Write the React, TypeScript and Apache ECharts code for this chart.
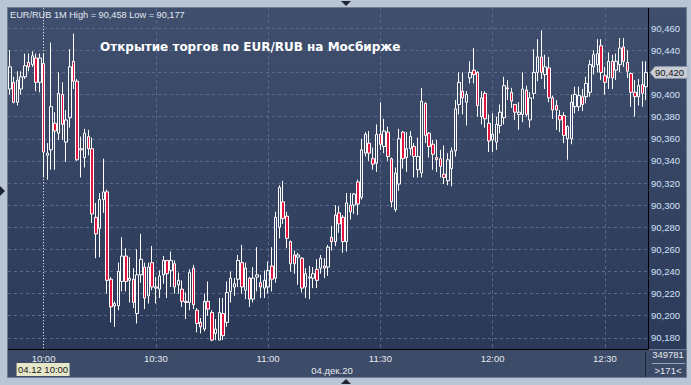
import React, { useEffect, useRef } from "react";
import * as echarts from "echarts";

// ---- data (1-minute candles, EUR/RUB, 04.12.20, starting 09:51) ----
const START_MINUTE = 9 * 60 + 51;
const opens = [
  90.405, 90.411, 90.393, 90.405, 90.416, 90.429, 90.427, 90.433, 90.411, 90.428,
  90.345, 90.35, 90.374, 90.365, 90.4, 90.357, 90.379, 90.43, 90.412, 90.351,
  90.343, 90.362, 90.351, 90.289, 90.279, 90.305, 90.312, 90.233, 90.209, 90.209,
  90.231, 90.254, 90.232, 90.233, 90.202, 90.237, 90.244, 90.218, 90.248, 90.225,
  90.224, 90.237, 90.25, 90.241, 90.247, 90.228, 90.224, 90.213, 90.212, 90.243,
  90.205, 90.194, 90.188, 90.213, 90.203, 90.184, 90.178, 90.202, 90.194, 90.222,
  90.226, 90.233, 90.248, 90.223, 90.234, 90.215, 90.235, 90.23, 90.225, 90.226,
  90.245, 90.234, 90.28, 90.303, 90.29, 90.267, 90.255, 90.253, 90.252, 90.226,
  90.234, 90.234, 90.242, 90.243, 90.245, 90.244, 90.271, 90.267, 90.293, 90.289,
  90.267, 90.3, 90.3, 90.321, 90.307, 90.347, 90.356, 90.342, 90.338, 90.364,
  90.353, 90.366, 90.342, 90.296, 90.319, 90.366, 90.343, 90.351, 90.353, 90.332,
  90.329, 90.392, 90.365, 90.355, 90.343, 90.342, 90.328, 90.322, 90.333, 90.349,
  90.391, 90.403, 90.393, 90.415, 90.422, 90.42, 90.38, 90.401, 90.374, 90.359,
  90.357, 90.372, 90.379, 90.406, 90.402, 90.391, 90.382, 90.382, 90.404, 90.377,
  90.401, 90.42, 90.434, 90.418, 90.424, 90.397, 90.39, 90.381, 90.381, 90.36,
  90.36, 90.389, 90.389, 90.398, 90.398, 90.402, 90.425, 90.427, 90.444, 90.417,
  90.415, 90.43, 90.422, 90.427, 90.443, 90.429, 90.419, 90.402, 90.398, 90.409,
  90.407,
];
const closes = [
  90.425, 90.393, 90.413, 90.416, 90.426, 90.425, 90.435, 90.411, 90.433, 90.348,
  90.347, 90.389, 90.367, 90.401, 90.373, 90.377, 90.425, 90.412, 90.341, 90.35,
  90.365, 90.351, 90.292, 90.274, 90.305, 90.312, 90.232, 90.208, 90.211, 90.24,
  90.254, 90.231, 90.234, 90.212, 90.237, 90.251, 90.216, 90.244, 90.226, 90.226,
  90.236, 90.25, 90.238, 90.25, 90.226, 90.232, 90.213, 90.212, 90.239, 90.21,
  90.193, 90.19, 90.213, 90.206, 90.178, 90.188, 90.203, 90.182, 90.221, 90.234,
  90.229, 90.25, 90.226, 90.243, 90.215, 90.234, 90.237, 90.226, 90.232, 90.241,
  90.233, 90.289, 90.316, 90.288, 90.27, 90.247, 90.247, 90.255, 90.225, 90.238,
  90.235, 90.238, 90.232, 90.252, 90.243, 90.262, 90.267, 90.291, 90.283, 90.267,
  90.302, 90.294, 90.31, 90.301, 90.35, 90.364, 90.347, 90.337, 90.364, 90.355,
  90.367, 90.344, 90.303, 90.329, 90.36, 90.342, 90.351, 90.362, 90.344, 90.344,
  90.394, 90.363, 90.353, 90.346, 90.341, 90.335, 90.325, 90.341, 90.349, 90.387,
  90.411, 90.397, 90.4, 90.42, 90.418, 90.39, 90.397, 90.378, 90.358, 90.364,
  90.373, 90.384, 90.408, 90.405, 90.394, 90.384, 90.384, 90.405, 90.382, 90.397,
  90.42, 90.434, 90.42, 90.425, 90.397, 90.386, 90.386, 90.377, 90.363, 90.371,
  90.393, 90.4, 90.399, 90.391, 90.41, 90.427, 90.436, 90.437, 90.42, 90.411,
  90.43, 90.415, 90.43, 90.442, 90.43, 90.421, 90.402, 90.398, 90.408, 90.401,
  90.42,
];
const lows = [
  90.4, 90.392, 90.39, 90.4, 90.414, 90.421, 90.425, 90.403, 90.402, 90.325,
  90.323, 90.332, 90.332, 90.359, 90.359, 90.339, 90.37, 90.405, 90.34, 90.325,
  90.334, 90.345, 90.284, 90.252, 90.253, 90.293, 90.22, 90.194, 90.19, 90.205,
  90.222, 90.222, 90.212, 90.207, 90.193, 90.23, 90.206, 90.211, 90.223, 90.211,
  90.216, 90.229, 90.216, 90.226, 90.22, 90.22, 90.208, 90.197, 90.205, 90.206,
  90.185, 90.184, 90.186, 90.2, 90.177, 90.178, 90.178, 90.178, 90.19, 90.212,
  90.218, 90.226, 90.22, 90.215, 90.208, 90.212, 90.222, 90.216, 90.216, 90.22,
  90.222, 90.23, 90.27, 90.283, 90.261, 90.24, 90.238, 90.228, 90.221, 90.216,
  90.215, 90.225, 90.225, 90.238, 90.234, 90.236, 90.259, 90.263, 90.275, 90.257,
  90.258, 90.287, 90.292, 90.291, 90.305, 90.344, 90.34, 90.332, 90.33, 90.35,
  90.347, 90.34, 90.298, 90.294, 90.313, 90.333, 90.33, 90.345, 90.325, 90.325,
  90.325, 90.356, 90.343, 90.332, 90.33, 90.325, 90.319, 90.318, 90.317, 90.344,
  90.382, 90.382, 90.372, 90.41, 90.41, 90.38, 90.373, 90.37, 90.348, 90.348,
  90.35, 90.365, 90.373, 90.395, 90.388, 90.377, 90.368, 90.375, 90.38, 90.37,
  90.396, 90.412, 90.414, 90.405, 90.393, 90.378, 90.368, 90.366, 90.356, 90.341,
  90.355, 90.383, 90.385, 90.385, 90.392, 90.398, 90.418, 90.42, 90.413, 90.4,
  90.405, 90.405, 90.413, 90.42, 90.425, 90.415, 90.389, 90.38, 90.39, 90.389,
  90.395,
];
const highs = [
  90.44, 90.416, 90.421, 90.421, 90.437, 90.437, 90.439, 90.437, 90.437, 90.437,
  90.356, 90.447, 90.384, 90.42, 90.411, 90.386, 90.441, 90.455, 90.414, 90.362,
  90.369, 90.368, 90.361, 90.302, 90.311, 90.342, 90.314, 90.235, 90.213, 90.248,
  90.271, 90.261, 90.253, 90.243, 90.26, 90.274, 90.248, 90.248, 90.263, 90.235,
  90.241, 90.254, 90.25, 90.258, 90.25, 90.239, 90.232, 90.221, 90.242, 90.246,
  90.207, 90.198, 90.22, 90.231, 90.205, 90.197, 90.216, 90.216, 90.231, 90.24,
  90.234, 90.255, 90.264, 90.248, 90.235, 90.244, 90.262, 90.237, 90.241, 90.249,
  90.262, 90.294, 90.318, 90.322, 90.294, 90.268, 90.259, 90.257, 90.253, 90.243,
  90.245, 90.244, 90.251, 90.255, 90.252, 90.264, 90.281, 90.3, 90.299, 90.291,
  90.311, 90.311, 90.311, 90.323, 90.36, 90.366, 90.367, 90.352, 90.373, 90.393,
  90.378, 90.371, 90.343, 90.334, 90.369, 90.367, 90.366, 90.367, 90.356, 90.361,
  90.406, 90.393, 90.366, 90.359, 90.359, 90.35, 90.354, 90.347, 90.352, 90.395,
  90.42, 90.42, 90.403, 90.43, 90.442, 90.421, 90.403, 90.403, 90.382, 90.383,
  90.38, 90.391, 90.416, 90.413, 90.406, 90.391, 90.393, 90.42, 90.408, 90.402,
  90.441, 90.45, 90.458, 90.436, 90.434, 90.399, 90.395, 90.386, 90.384, 90.372,
  90.4, 90.407, 90.407, 90.405, 90.416, 90.431, 90.44, 90.45, 90.45, 90.425,
  90.438, 90.436, 90.437, 90.451, 90.451, 90.44, 90.42, 90.413, 90.414, 90.43,
  90.43,
];
const labelTimes = ["10:00", "10:30", "11:00", "11:30", "12:00", "12:30"];
const gridTimes = ["10:30", "11:00", "11:30", "12:00", "12:30"];
const crosshairTime = "10:00";
const yTicks = [
  90.18, 90.2, 90.22, 90.24, 90.26, 90.28, 90.3, 90.32, 90.34, 90.36, 90.38,
  90.4, 90.42, 90.44, 90.46,
];
const Y_MIN = 90.16;
const Y_MAX = 90.48;
const Y_STEP = 0.02;
const VOLUME_TEXT = "349781";
const DATE_TEXT = "04.дек.20";
const CROSS_TAG = "04.12 10:00";
const TITLE = "Открытие торгов по EUR/RUB на Мосбирже";

const pad = (n: number) => (n < 10 ? "0" + n : "" + n);
const categories = opens.map((_, i) => {
  const t = START_MINUTE + i;
  return pad(Math.floor(t / 60)) + ":" + pad(t % 60);
});
const fmt = (v: number) => v.toFixed(3).replace(".", ",");

const SANS = "'Liberation Sans', Arial, sans-serif";
const PLOT_TOP_VAL = 90.478;
const PLOT_BOT_VAL = 90.17;

export default function App() {
  const ref = useRef<HTMLDivElement>(null);
  useEffect(() => {
    if (!ref.current) return;
    const chart = echarts.init(ref.current, undefined, { renderer: "svg" });
    const last = closes.length - 1;
    const lastLabel = fmt(closes[last]);
    const gridStyle = { color: "#5a6a88", type: [3, 3] as any, width: 1 };
    const markData: any[] = [];
    yTicks.forEach((v) => markData.push({ yAxis: v, lineStyle: gridStyle }));
    gridTimes.forEach((t) =>
      markData.push([
        { coord: [t, PLOT_TOP_VAL], lineStyle: gridStyle },
        { coord: [t, PLOT_BOT_VAL] },
      ])
    );
    markData.push([
      {
        coord: [crosshairTime, PLOT_TOP_VAL],
        lineStyle: { color: "#ffffff", type: [1, 2] as any, width: 1 },
      },
      { coord: [crosshairTime, PLOT_BOT_VAL] },
    ]);

    chart.setOption({
      animation: false,
      backgroundColor: "transparent",
      grid: { left: 8, right: 43, top: 6, bottom: 25, containLabel: false },
      xAxis: {
        type: "category",
        data: categories,
        boundaryGap: true,
        offset: -11,
        axisLine: { show: false },
        axisTick: { show: false },
        splitLine: { show: false },
        axisLabel: {
          interval: (_i: number, v: string) => labelTimes.indexOf(v) >= 0,
          color: "#e6eaf0",
          fontSize: 9.5,
          fontFamily: SANS,
          margin: 4,
        },
      },
      yAxis: {
        type: "value",
        position: "right",
        min: Y_MIN,
        max: Y_MAX,
        interval: Y_STEP,
        axisLine: { show: false },
        axisTick: { show: false },
        splitLine: { show: false },
        axisLabel: {
          showMinLabel: false,
          showMaxLabel: false,
          // the last-price tag covers this tick's label
          formatter: (v: number) => (fmt(v) === lastLabel ? "" : fmt(v)),
          color: "#d2e3f7",
          fontSize: 9.5,
          fontFamily: SANS,
          margin: 3,
        },
      },
      series: [
        {
          type: "candlestick",
          data: opens.map((o, i) => [o, closes[i], lows[i], highs[i]]),
          barWidth: 3,
          z: 2,
          itemStyle: {
            color: "rgba(0,0,0,0)",
            color0: "#e3163f",
            borderColor: "#ffffff",
            borderColor0: "#ffffff",
            borderColorDoji: "#ffffff",
            borderWidth: 1,
          },
          markLine: {
            silent: true,
            z: 1,
            symbol: ["none", "none"],
            label: { show: false },
            lineStyle: gridStyle,
            data: markData,
          },
        },
      ],
    });

    const priceY = chart.convertToPixel({ yAxisIndex: 0 }, closes[last]) as number;
    const crossX = chart.convertToPixel(
      { xAxisIndex: 0 },
      categories.indexOf(crosshairTime)
    ) as number;
    const hi = Math.max(...highs);
    const lo = Math.min(...lows);
    const Z = 100;

    chart.setOption({
      graphic: [
        {
          type: "text", z: Z, x: 10, y: 15,
          style: {
            text: `EUR/RUB 1M High = ${fmt(hi)} Low = ${fmt(lo)}`,
            fill: "#e4eaf2", font: `9.2px ${SANS}`, verticalAlign: "middle", align: "left",
          },
        },
        {
          type: "text", z: Z, x: 100, y: 47,
          style: {
            text: TITLE, fill: "#ffffff",
            font: "bold 12px 'DejaVu Sans', sans-serif", verticalAlign: "middle", align: "left",
          },
        },
        // frame lines
        { type: "line", z: Z, shape: { x1: 648.5, y1: 8, x2: 648.5, y2: 349.5 }, style: { stroke: "#000", lineWidth: 1 } },
        { type: "line", z: Z, shape: { x1: 8, y1: 349.5, x2: 648.5, y2: 349.5 }, style: { stroke: "#000", lineWidth: 1 } },
        { type: "line", z: Z, shape: { x1: 645.5, y1: 352, x2: 645.5, y2: 377 }, style: { stroke: "#1c2434", lineWidth: 1 } },
        // crosshair time tag
        { type: "rect", z: Z, shape: { x: crossX - 27, y: 363, width: 53, height: 13 }, style: { fill: "#e6e6c8" } },
        {
          type: "text", z: Z + 1, x: crossX - 0.5, y: 369.5,
          style: { text: CROSS_TAG, fill: "#1a1a1a", font: `9.5px ${SANS}`, align: "center", verticalAlign: "middle" },
        },
        {
          type: "text", z: Z, x: 332, y: 370,
          style: { text: DATE_TEXT, fill: "#e6eaf0", font: `9.5px ${SANS}`, align: "center", verticalAlign: "middle" },
        },
        {
          type: "text", z: Z, x: 668, y: 354.5,
          style: { text: VOLUME_TEXT, fill: "#e6eaf0", font: `9.5px ${SANS}`, align: "center", verticalAlign: "middle" },
        },
        { type: "line", z: Z, shape: { x1: 652, y1: 363.5, x2: 685, y2: 363.5 }, style: { stroke: "#9aa6b8", lineWidth: 1 } },
        {
          type: "text", z: Z, x: 668, y: 370.5,
          style: { text: `>${opens.length}<`, fill: "#e6eaf0", font: `9.5px ${SANS}`, align: "center", verticalAlign: "middle" },
        },
        // last price tag
        {
          type: "polygon", z: Z,
          shape: { points: [[650, priceY], [655, priceY - 6], [688, priceY - 6], [688, priceY + 6], [655, priceY + 6]] },
          style: { fill: "#c8ccd4", stroke: "#8c94a2", lineWidth: 0.5 },
        },
        {
          type: "text", z: Z + 1, x: 655, y: priceY,
          style: { text: lastLabel, fill: "#111111", font: `9.5px ${SANS}`, align: "left", verticalAlign: "middle" },
        },
        // small frame arrows
        { type: "polygon", z: Z, shape: { points: [[341, 1], [351, 1], [346, 6]] }, style: { fill: "#1e2532" } },
        { type: "polygon", z: Z, shape: { points: [[341, 384], [351, 384], [346, 379]] }, style: { fill: "#1e2532" } },
        { type: "polygon", z: Z, shape: { points: [[0, 186], [0, 196], [5, 191]] }, style: { fill: "#1e2532" } },
      ],
    });
    return () => chart.dispose();
  }, []);

  const abs = (s: React.CSSProperties): React.CSSProperties => ({ position: "absolute", ...s });
  return (
    <div style={{ position: "fixed", left: 0, top: 0, width: 691, height: 385, background: "#b9c5d5", overflow: "hidden" }}>
      <div style={abs({ left: 7, top: 7, width: 680, height: 371, background: "#6e7c92" })} />
      <div style={abs({ left: 8, top: 8, width: 640, height: 341, background: "linear-gradient(to bottom, #404f6e, #2b3959)" })} />
      <div style={abs({ left: 649, top: 8, width: 37, height: 341, background: "linear-gradient(to bottom, #3f4e6d, #2d3b5b)" })} />
      <div style={abs({ left: 8, top: 350, width: 678, height: 27, background: "#3c4b67" })} />
      <div ref={ref} style={abs({ left: 0, top: 0, width: 691, height: 385 })} />
    </div>
  );
}
